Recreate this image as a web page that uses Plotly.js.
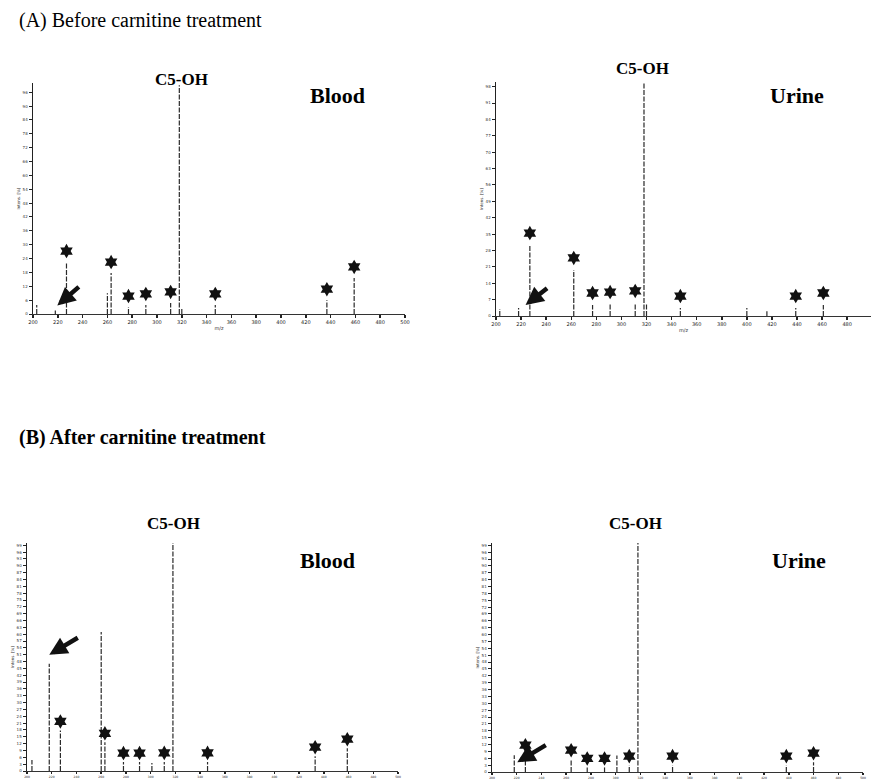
<!DOCTYPE html>
<html>
<head>
<meta charset="utf-8">
<script src="https://cdn.plot.ly/plotly-3.0.1.min.js"></script>
<style>html,body{margin:0;padding:0;background:#fff;}#chart{width:871px;height:779px;}</style>
</head>
<body>
<div id="chart"></div>
<script>
// ---------- DATA (m/z and relative intensity, % of full scale) ----------
// (A) Before carnitine treatment - Blood
const mzBloodBefore   = [203, 218, 227, 260, 263, 277, 291, 311, 318, 320, 347, 437, 459];
const intBloodBefore  = [3.9, 1.5, 22.5, 9.0, 17.7, 3.0, 3.9, 4.8, 99, 2.5, 3.9, 6.0, 15.6];
const stdBloodBefore  = [0, 0, 1, 0, 1, 1, 1, 1, 0, 0, 1, 1, 1];
// (A) Before carnitine treatment - Urine
const mzUrineBefore   = [203, 218, 227, 262, 277, 291, 311, 318, 320, 347, 400, 416, 439, 461];
const intUrineBefore  = [3.0, 3.4, 30.3, 19.7, 4.7, 5.1, 5.6, 99.5, 5.5, 3.4, 3.4, 2.0, 3.4, 4.7];
const stdUrineBefore  = [0, 0, 1, 1, 1, 1, 1, 0, 0, 1, 0, 0, 1, 1];
// (B) After carnitine treatment - Blood
const mzBloodAfter    = [204, 218, 227, 260, 263, 278, 291, 301, 311, 318, 346, 433, 459];
const intBloodAfter   = [4.8, 47, 17.8, 61, 12.6, 3.9, 3.9, 3.5, 4.0, 100, 4.0, 6.5, 10];
const stdBloodAfter   = [0, 0, 1, 0, 1, 1, 1, 0, 1, 0, 1, 1, 1];
// (B) After carnitine treatment - Urine
const mzUrineAfter    = [218, 227, 264, 277, 291, 301, 311, 318, 346, 438, 460];
const intUrineAfter   = [7.3, 7.8, 5.6, 2.0, 2.0, 7.2, 3.0, 100, 3.0, 3.0, 4.3];
const stdUrineAfter   = [0, 1, 1, 1, 1, 0, 1, 0, 1, 1, 1];

const freeCarnitineMz = 218;
const sectionTitles = ["(A) Before carnitine treatment", "(B) After carnitine treatment"];
const peakLabel = "C5-OH";
const sampleNames = ["Blood", "Urine", "Blood", "Urine"];

// ---------- LAYOUT (pixel geometry) ----------
const W = 871, H = 779;
const fx = p => p / W;
const fy = p => 1 - p / H;

const panels = [
  {mz: mzBloodBefore, it: intBloodBefore, sd: stdBloodBefore, x0: 33,  x1: 405, top: 83,  bot: 314, xr: [200, 500], dt: 6, star: 11,
   arrow: {xs: 2, ys: 5, ax: 23, ay: -20}, c5: [181, 80], name: [337, 95], tf: 5, tl: 3, mzTitle: true},
  {mz: mzUrineBefore, it: intUrineBefore, sd: stdUrineBefore, x0: 496, x1: 871, top: 82,  bot: 316, xr: [200, 499], dt: 7, star: 12,
   arrow: {xs: 7, ys: 3, ax: 23, ay: -18}, c5: [642, 68], name: [797, 95], tf: 5, tl: 3, mzTitle: true},
  {mz: mzBloodAfter,  it: intBloodAfter,  sd: stdBloodAfter,  x0: 27,  x1: 398, top: 543, bot: 771, xr: [200, 500], dt: 3, star: 9,
   arrow: {xs: 0, ys: 9, ax: 30, ay: -18}, c5: [173, 523], name: [327, 560], tf: 3, tl: 2, mzTitle: false},
  {mz: mzUrineAfter,  it: intUrineAfter,  sd: stdUrineAfter,  x0: 492, x1: 863, top: 543, bot: 772, xr: [200, 500], dt: 3, star: 9,
   arrow: {xs: 3, ys: -7, ax: 30, ay: -18}, c5: [635, 523], name: [799, 560], tf: 3, tl: 2, mzTitle: false}
];

const traces = [];
const layout = {
  width: W, height: H,
  margin: {l: 0, r: 0, t: 0, b: 0},
  paper_bgcolor: '#fff', plot_bgcolor: 'rgba(0,0,0,0)',
  showlegend: false,
  font: {family: 'Liberation Serif, Times New Roman, serif', color: '#000'},
  annotations: []
};

panels.forEach((p, i) => {
  const n = i === 0 ? '' : String(i + 1);
  const xa = 'x' + n, ya = 'y' + n;
  const yr = [0, 100];
  const unitsPerPx = (yr[1] - yr[0]) / (p.bot - p.top);

  // sticks
  const sx = [], sy = [];
  p.mz.forEach((m, k) => { sx.push(m, m, null); sy.push(0, p.it[k], null); });
  traces.push({type: 'scatter', mode: 'lines', x: sx, y: sy, xaxis: xa, yaxis: ya,
    line: {color: '#2a2a2a', width: 1.2, dash: '5px,1.5px'}, hoverinfo: 'skip', cliponaxis: false});

  // internal-standard stars
  const tx = [], ty = [];
  p.mz.forEach((m, k) => { if (p.sd[k]) { tx.push(m); ty.push(p.it[k] + p.star * unitsPerPx); } });
  traces.push({type: 'scatter', mode: 'markers', x: tx, y: ty, xaxis: xa, yaxis: ya,
    marker: {symbol: 'hexagram', size: 11, color: '#111', line: {width: 0}}, hoverinfo: 'skip', cliponaxis: false});

  layout['xaxis' + n] = {
    domain: [fx(p.x0), Math.min(1, fx(p.x1))], range: p.xr, anchor: ya,
    showgrid: false, zeroline: false, showline: true, linecolor: '#333', linewidth: 1,
    ticks: 'outside', ticklen: p.tl, tickwidth: 1.5, tickcolor: '#222', dtick: 20, tick0: 200,
    tickfont: {size: p.tf, color: '#222', family: 'DejaVu Sans'},
    title: p.mzTitle ? {text: 'm/z', font: {size: 5, color: '#333', family: 'DejaVu Sans'}, standoff: 2} : {text: ''}
  };
  layout['yaxis' + n] = {
    domain: [fy(p.bot), fy(p.top)], range: yr, anchor: xa,
    showgrid: false, zeroline: false, showline: true, linecolor: '#222', linewidth: 1.5,
    ticks: 'outside', ticklen: 3, tickwidth: 1, tickcolor: '#222', dtick: p.dt, tick0: 0,
    tickfont: {size: 4, color: '#333', family: 'DejaVu Sans'},
    title: {text: 'Intens. [%]', font: {size: 4, color: '#333', family: 'DejaVu Sans'}, standoff: 2}
  };

  // arrow to free carnitine
  const fk = p.mz.indexOf(freeCarnitineMz);
  layout.annotations.push({
    xref: xa, yref: ya, x: freeCarnitineMz, y: p.it[fk], xshift: p.arrow.xs, yshift: p.arrow.ys,
    text: '', showarrow: true, arrowhead: 2, arrowsize: 0.8, arrowwidth: 4.5, arrowcolor: '#111',
    ax: p.arrow.ax, ay: p.arrow.ay
  });
  // C5-OH label
  layout.annotations.push({
    xref: 'paper', yref: 'paper', x: fx(p.c5[0]), y: fy(p.c5[1]), xanchor: 'center', yanchor: 'middle',
    text: '<b>' + peakLabel + '</b>', showarrow: false,
    font: {size: 17, family: 'Liberation Serif, Times New Roman, serif', color: '#000'}
  });
  // sample name
  layout.annotations.push({
    xref: 'paper', yref: 'paper', x: fx(p.name[0]), y: fy(p.name[1]), xanchor: 'center', yanchor: 'middle',
    text: '<b>' + sampleNames[i] + '</b>', showarrow: false,
    font: {size: 22, family: 'Liberation Serif, Times New Roman, serif', color: '#000'}
  });
});

// section titles
layout.annotations.push({
  xref: 'paper', yref: 'paper', x: fx(17), y: fy(21), xanchor: 'left', yanchor: 'middle',
  text: sectionTitles[0], showarrow: false,
  font: {size: 20, family: 'Liberation Serif, Times New Roman, serif', color: '#000'}
});
layout.annotations.push({
  xref: 'paper', yref: 'paper', x: fx(17), y: fy(437), xanchor: 'left', yanchor: 'middle',
  text: '<b>' + sectionTitles[1] + '</b>', showarrow: false,
  font: {size: 20, family: 'Liberation Serif, Times New Roman, serif', color: '#000'}
});

Plotly.newPlot('chart', traces, layout, {staticPlot: true, displayModeBar: false});
</script>
</body>
</html>
